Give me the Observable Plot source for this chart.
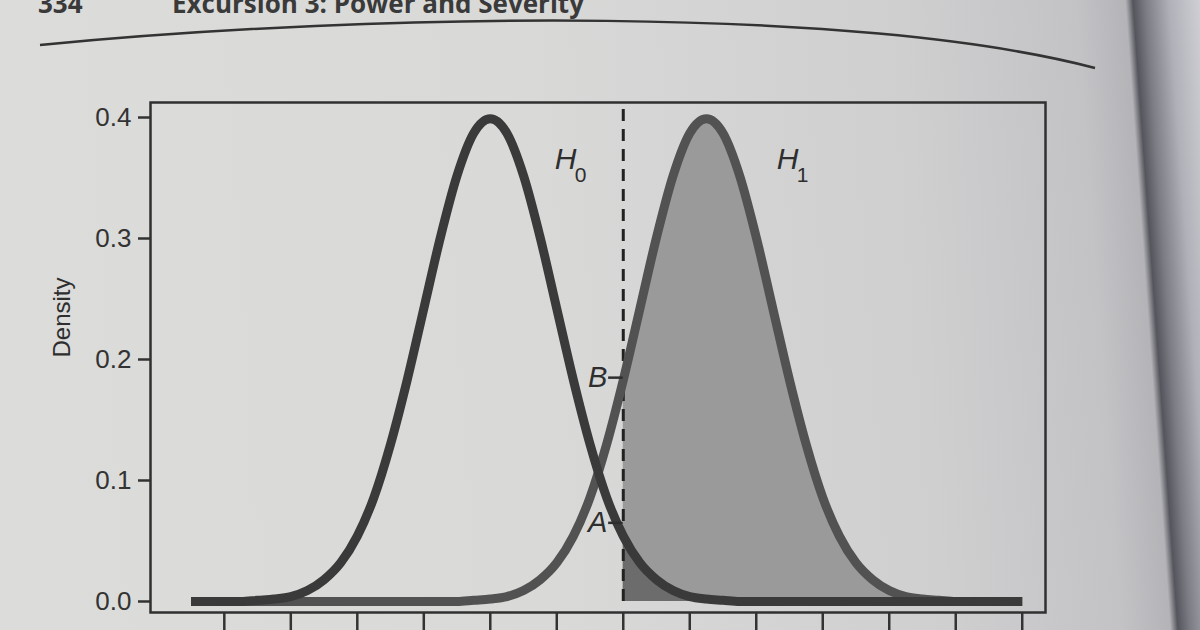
<!DOCTYPE html>
<html>
<head>
<meta charset="utf-8">
<script src="https://cdn.jsdelivr.net/npm/d3@7"></script>
<script src="https://cdn.jsdelivr.net/npm/@observablehq/plot@0.6"></script>
<style>
  html, body { margin: 0; padding: 0; width: 1200px; height: 630px; overflow: hidden; }
  body {
    position: relative;
    background: linear-gradient(85.9deg, #dcdcda 0%, #d9d9d8 45%, #cfcfd0 76%, #c3c3c6 90%, #b4b4b8 94.0%, #55555d 94.6%, #7c7c84 95.6%, #b0b0b8 97.5%, #cfcfd5 100%);
    font-family: "Liberation Sans", Arial, sans-serif;
  }
  #header { position: absolute; left: 0; top: 0; }
  #chart { position: absolute; left: 0; top: 0; }
</style>
</head>
<body>
<svg id="header" width="1200" height="630">
  <text x="38" y="13" font-family="Open Sans" font-weight="700" font-size="26" fill="#3a3a3a">334</text>
  <text x="172" y="13" font-family="Open Sans" font-weight="700" font-size="26" fill="#3a3a3a">Excursion 3: Power and Severity</text>
  <path d="M40,45 C380,12 860,6 1095,68" stroke="#333" stroke-width="2.5" fill="none"/>
</svg>
<div id="chart"></div>
<script>
// x positions (standardised units) at which the curves were read
const xs = [-4.5, -4.25, -4, -3.75, -3.5, -3.25, -3, -2.75, -2.5, -2.25, -2, -1.75, -1.5, -1.25, -1, -0.75, -0.5, -0.25,
  0, 0.25, 0.5, 0.75, 1, 1.25, 1.5, 1.75, 2, 2.25, 2.5, 2.75, 3, 3.25, 3.5, 3.75, 4, 4.25, 4.5, 4.75, 5, 5.25, 5.5,
  5.75, 6, 6.25, 6.5, 6.75, 7, 7.25, 7.5, 7.75, 8];
// density under H0
const h0Density = [0, 0, 0, 0, 0.001, 0.002, 0.004, 0.009, 0.018, 0.032, 0.054, 0.086, 0.130, 0.183, 0.242, 0.301, 0.352, 0.387,
  0.399, 0.387, 0.352, 0.301, 0.242, 0.183, 0.130, 0.086, 0.054, 0.032, 0.018, 0.009, 0.004, 0.002, 0.001, 0, 0, 0, 0, 0, 0, 0,
  0, 0, 0, 0, 0, 0, 0, 0, 0, 0, 0];
// density under H1
const h1Density = [0, 0, 0, 0, 0, 0, 0, 0, 0, 0, 0, 0, 0, 0, 0, 0, 0, 0.001,
  0.002, 0.004, 0.009, 0.018, 0.032, 0.054, 0.086, 0.130, 0.183, 0.242, 0.301, 0.352, 0.387, 0.399, 0.387, 0.352, 0.301, 0.242, 0.183, 0.130, 0.086, 0.054, 0.032,
  0.018, 0.009, 0.004, 0.002, 0.001, 0, 0, 0, 0, 0];
const cutoff = 2;
const yTicks = [0, 0.1, 0.2, 0.3, 0.4];
const xTicks = [-4, -3, -2, -1, 0, 1, 2, 3, 4, 5, 6, 7, 8];
const hypNames = ["H", "H"];
const hypSubs = ["0", "1"];
const hypX = [0.97, 4.31];
const hypSubX = [1.27, 4.61];
const hypY = [0.365, 0.365];
const hypSubY = [0.352, 0.352];
const markLetters = ["A", "B"];
const markY = [0.065, 0.185];
const yLabel = "Density";

const xDomain = [-5.11, 8.35];
const yDomain = [-0.0091, 0.4124];

const h0 = xs.map((x, i) => ({x, y: h0Density[i]}));
const h1 = xs.map((x, i) => ({x, y: h1Density[i]}));
const hyp = hypNames.map((t, i) => ({t, x: hypX[i], y: hypY[i], s: hypSubs[i], sx: hypSubX[i], sy: hypSubY[i]}));
const marks = markLetters.map((t, i) => ({t, y: markY[i]}));

const plot = Plot.plot({
  width: 1200,
  height: 630,
  marginLeft: 150,
  marginRight: 155,
  marginTop: 102,
  marginBottom: 18,
  style: {fontFamily: "Liberation Sans, Arial, sans-serif", background: "transparent", color: "#333"},
  x: {domain: xDomain},
  y: {domain: yDomain},
  marks: [
    Plot.areaY(h1.filter(d => d.x >= cutoff), {x: "x", y: "y", fill: "#9a9a9a", curve: "monotone-x"}),
    Plot.areaY(h0.filter(d => d.x >= cutoff), {x: "x", y: "y", fill: "#6c6c6c", curve: "monotone-x"}),
    Plot.ruleX([cutoff], {y1: 0, y2: yDomain[1], stroke: "#222", strokeWidth: 3, strokeDasharray: "12,8"}),
    Plot.line(h1, {x: "x", y: "y", stroke: "#525252", strokeWidth: 9, curve: "monotone-x", strokeLinecap: "butt"}),
    Plot.line(h0, {x: "x", y: "y", stroke: "#3a3a3a", strokeWidth: 9, curve: "monotone-x", strokeLinecap: "butt"}),
    Plot.text(hyp, {x: "x", y: "y", text: "t", fontSize: 30, fontStyle: "italic", textAnchor: "start", fill: "#2e2e2e"}),
    Plot.text(hyp, {x: "sx", y: "sy", text: "s", fontSize: 21, textAnchor: "start", fill: "#2e2e2e"}),
    Plot.ruleY(marks, {y: "y", x1: cutoff - 0.22, x2: cutoff, stroke: "#2e2e2e", strokeWidth: 2.5}),
    Plot.text(marks, {x: cutoff, y: "y", text: "t", dx: -16, fontSize: 29, fontStyle: "italic", textAnchor: "end", fill: "#2e2e2e"}),
    Plot.text([yLabel], {frameAnchor: "left", dx: -88, rotate: -90, fontSize: 24, fill: "#2e2e2e"}),
    Plot.axisY({ticks: yTicks, tickSize: 12, tickPadding: 7, tickFormat: d3.format(".1f"), fontSize: 26, strokeWidth: 2.5, label: null, fill: "#333"}),
    Plot.axisX({ticks: xTicks, tickSize: 20, tickFormat: () => "", strokeWidth: 2.5, label: null}),
    Plot.frame({stroke: "#303030", strokeWidth: 2.5})
  ]
});
document.getElementById("chart").appendChild(plot);
</script>
</body>
</html>
